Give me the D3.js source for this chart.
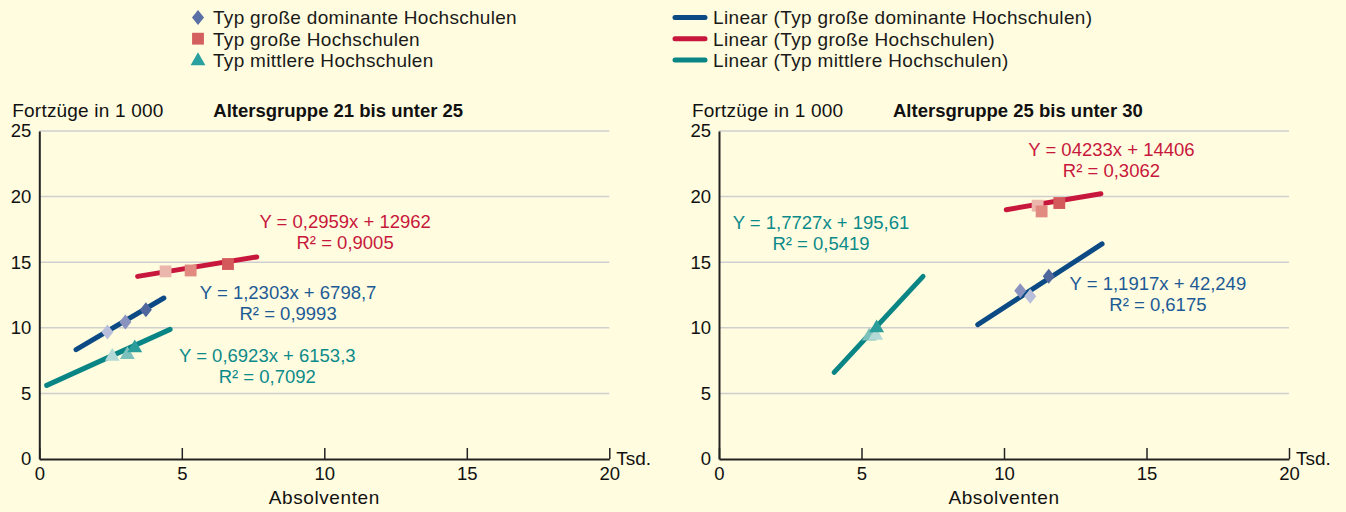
<!DOCTYPE html>
<html>
<head>
<meta charset="utf-8">
<script src="https://cdn.jsdelivr.net/npm/d3@7"></script>
<style>
  body { margin: 0; background: #fffcdf; }
  svg { display: block; font-family: "Liberation Sans", Arial, sans-serif; }
</style>
</head>
<body>
<svg id="chart" width="1346" height="512"></svg>
<script>
// Daten (x in Tsd. Absolventen, y in 1 000 Fortzügen)
const seriesNames = ['Typ große dominante Hochschulen', 'Typ große Hochschulen', 'Typ mittlere Hochschulen'];
const xTicks = [0, 5, 10, 15, 20];
const yTicks = [0, 5, 10, 15, 20, 25];
const panelTitles = ['Altersgruppe 21 bis unter 25', 'Altersgruppe 25 bis unter 30'];

// Punkte je Typ: x, y, obs (0 = heller, 2 = dunkler)
const left21Dominant = [{x: 2.39, y: 9.68, obs: 0}, {x: 3.02, y: 10.44, obs: 1}, {x: 3.74, y: 11.38, obs: 2}];
const left21Gross = [{x: 4.43, y: 14.3, obs: 0}, {x: 5.31, y: 14.37, obs: 1}, {x: 6.62, y: 14.86, obs: 2}];
const left21Mittel = [{x: 2.56, y: 7.82, obs: 0}, {x: 3.09, y: 7.95, obs: 1}, {x: 3.35, y: 8.46, obs: 2}];

const right25Dominant = [{x: 10.57, y: 12.83, obs: 1}, {x: 10.92, y: 12.4, obs: 0}, {x: 11.57, y: 13.92, obs: 2}];
const right25Gross = [{x: 11.18, y: 19.31, obs: 0}, {x: 11.32, y: 18.87, obs: 1}, {x: 11.94, y: 19.51, obs: 2}];
const right25Mittel = [{x: 5.27, y: 9.35, obs: 1}, {x: 5.5, y: 9.42, obs: 0}, {x: 5.53, y: 9.98, obs: 2}];

// Trendlinien: [x1, y1, x2, y2]
const left21Trends = [[1.29, 8.33, 4.37, 12.27], [3.45, 13.92, 7.63, 15.4], [0.26, 5.61, 4.59, 9.88]];
const right25Trends = [[9.08, 10.24, 13.44, 16.39], [10.08, 19.0, 13.4, 20.22], [4.04, 6.6, 7.16, 13.92]];

const left21Eq = [['Y = 1,2303x + 6798,7', 'R² = 0,9993'], ['Y = 0,2959x + 12962', 'R² = 0,9005'], ['Y = 0,6923x + 6153,3', 'R² = 0,7092']];
const right25Eq = [['Y = 1,1917x + 42,249', 'R² = 0,6175'], ['Y = 04233x + 14406', 'R² = 0,3062'], ['Y = 1,7727x + 195,61', 'R² = 0,5419']];
// Lage der Gleichungen (Mitte der ersten Zeile, in Achseneinheiten)
const left21EqAt = [[8.73, 12.2], [10.73, 17.6], [8.0, 7.4]];
const right25EqAt = [[15.4, 12.9], [13.77, 23.1], [3.58, 17.5]];

const typeColors = ['#0b4a85', '#c8173c', '#0a8585'];
const textColors = ['#1c5a96', '#c8173c', '#0b8a8a'];
const shades = [
  ['#b9bedb', '#8a93bf', '#4f679c'],
  ['#ebb6ac', '#e08a80', '#d3595a'],
  ['#b3dad6', '#7cc0bb', '#2b9e9c']
];
const legendMarker = ['#5a6fa5', '#d45f5f', '#2aa0a0'];

const svg = d3.select('#chart');
svg.append('rect').attr('width', 1346).attr('height', 512).attr('fill', '#fffcdf');

// Raute als eigener Pfad (breiter als d3.symbolDiamond)
const diamond = () => 'M0,-7.5L6,0L0,7.5L-6,0Z';
const symbolTypes = [
  diamond,
  d3.symbol().type(d3.symbolSquare).size(140),
  d3.symbol().type(d3.symbolTriangle).size(95)
];

// Legende
const legL = svg.append('g');
seriesNames.forEach((name, i) => {
  const yy = 17.5 + i * 21.2;
  legL.append('path')
    .attr('d', symbolTypes[i]())
    .attr('transform', `translate(198,${yy + (i === 2 ? 1 : 0)})`)
    .attr('fill', legendMarker[i]);
  legL.append('text').attr('x', 213).attr('y', yy + 6.8)
    .attr('font-size', 19).attr('letter-spacing', 0.3).attr('fill', '#1a1a1a').text(name);
  legL.append('line')
    .attr('x1', 675).attr('x2', 705).attr('y1', yy).attr('y2', yy)
    .attr('stroke', typeColors[i]).attr('stroke-width', 5).attr('stroke-linecap', 'round');
  legL.append('text').attr('x', 713).attr('y', yy + 6.8)
    .attr('font-size', 19).attr('letter-spacing', 0.35).attr('fill', '#1a1a1a').text(`Linear (${name})`);
});

function drawPanel(x0, title, series, trends, eqs, eqAt) {
  const x = d3.scaleLinear().domain([0, 20]).range([x0, x0 + 570]);
  const y = d3.scaleLinear().domain([0, 25]).range([459, 131]);
  const g = svg.append('g');

  // Gitter
  g.selectAll('.grid').data(yTicks.filter(d => d > 0)).enter().append('line')
    .attr('x1', x(0)).attr('x2', x(20))
    .attr('y1', d => y(d)).attr('y2', d => y(d))
    .attr('stroke', '#cfcfcf').attr('stroke-width', 1.5);

  // y-Achse
  const yAxis = d3.axisLeft(y).tickValues(yTicks).tickSize(0).tickPadding(8);
  const ya = g.append('g').attr('transform', `translate(${x(0)},0)`).call(yAxis);
  ya.select('.domain').attr('stroke', '#222').attr('stroke-width', 2);
  ya.selectAll('text').attr('font-size', 18.5).attr('fill', '#111').attr('font-family', 'Liberation Sans, Arial, sans-serif');

  // x-Achse
  const xAxis = d3.axisBottom(x).tickValues(xTicks).tickSize(-11).tickSizeOuter(0).tickPadding(8);
  const xa = g.append('g').attr('transform', `translate(0,${y(0)})`).call(xAxis);
  xa.select('.domain').attr('stroke', '#222').attr('stroke-width', 2);
  xa.selectAll('.tick line').attr('stroke', '#222').attr('stroke-width', 1.5);
  xa.selectAll('text').attr('font-size', 18.5).attr('fill', '#111').attr('font-family', 'Liberation Sans, Arial, sans-serif');

  g.append('text').attr('x', x(20) + 7).attr('y', 465).attr('font-size', 19).attr('fill', '#111').text('Tsd.');
  g.append('text').attr('x', x(10)).attr('y', 504).attr('text-anchor', 'middle')
    .attr('font-size', 19).attr('letter-spacing', 0.6).attr('fill', '#111').text('Absolventen');
  g.append('text').attr('x', x0 - 27).attr('y', 117).attr('font-size', 19).attr('letter-spacing', 0.2)
    .attr('fill', '#111').text('Fortzüge in 1 000');
  g.append('text').attr('x', x0 + 174).attr('y', 117).attr('font-size', 18.5).attr('font-weight', 'bold')
    .attr('fill', '#111').text(title);

  // Trendlinien
  trends.forEach((t, i) => {
    g.append('line')
      .attr('x1', x(t[0])).attr('y1', y(t[1])).attr('x2', x(t[2])).attr('y2', y(t[3]))
      .attr('stroke', typeColors[i]).attr('stroke-width', 5).attr('stroke-linecap', 'round');
  });

  // Punkte
  series.forEach((pts, i) => {
    g.selectAll(null).data(pts).enter().append('path')
      .attr('d', symbolTypes[i]())
      .attr('transform', d => `translate(${x(d.x)},${y(d.y)})`)
      .attr('fill', d => shades[i][d.obs]);
  });

  // Gleichungen
  eqs.forEach((lines, i) => {
    lines.forEach((s, j) => {
      g.append('text')
        .attr('x', x(eqAt[i][0])).attr('y', y(eqAt[i][1]) + j * 21)
        .attr('text-anchor', 'middle').attr('font-size', 18.5)
        .attr('fill', textColors[i]).text(s);
    });
  });
}

drawPanel(39.3, panelTitles[0], [left21Dominant, left21Gross, left21Mittel], left21Trends, left21Eq, left21EqAt);
drawPanel(719, panelTitles[1], [right25Dominant, right25Gross, right25Mittel], right25Trends, right25Eq, right25EqAt);
</script>
</body>
</html>
